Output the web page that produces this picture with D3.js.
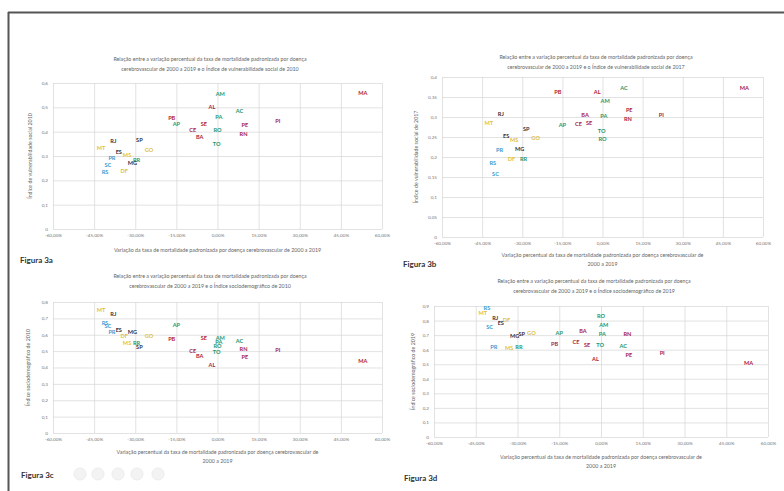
<!DOCTYPE html>
<html>
<head>
<meta charset="utf-8">
<script src="https://cdn.jsdelivr.net/npm/d3@7"></script>
<style>
  body { margin: 0; background: #fff; }
  svg text { font-family: Lato, "Open Sans", sans-serif; }
  .tick text { fill: #767676; }
  .grid line { stroke: #d6d6d6; stroke-width: 0.7; }
  .ttl { fill: #666; font-size: 5.3px; }
  .fig { fill: #333; font-size: 8px; font-weight: 700; }
  .lbl { font-size: 5.6px; font-weight: 700; }
</style>
</head>
<body>
<script>
// states, region and x values (shared by the 4 panels)
const states  = ["MA","PI","PE","RN","AC","AM","PA","RO","TO","AL","SE","BA","CE","AP","PB","GO","SP","RR","MG","MS","DF","ES","RJ","PR","SC","RS","MT"];
const regions = ["NE","NE","NE","NE","N","N","N","N","N","NE","NE","NE","NE","N","NE","CO","SE","N","SE","CO","CO","SE","SE","S","S","S","CO"];
const mortVar = [53,22,10,9.5,8,1,0.5,0,-0.3,-2,-5,-6.5,-9,-15,-16.7,-25,-28.5,-29.5,-31,-33,-34,-36,-38,-38.5,-40,-41,-42.5];

// y values per panel
const ivs2010 = [.559,.442,.426,.392,.484,.556,.46,.408,.351,.501,.433,.377,.408,.431,.456,.326,.367,.285,.271,.303,.237,.315,.36,.292,.262,.233,.333];
const ivs2017 = [.373,.304,.318,.296,.373,.34,.3025,.246,.265,.3625,.285,.304,.283,.279,.3625,.248,.271,.196,.221,.243,.194,.252,.308,.217,.158,.185,.285];
const ids2010 = [.44,.509,.464,.515,.562,.582,.556,.53,.492,.413,.582,.47,.499,.658,.572,.593,.525,.55,.617,.552,.592,.627,.725,.617,.652,.672,.749];
const ids2019 = [.505,.578,.562,.704,.624,.768,.704,.83,.635,.539,.631,.729,.652,.711,.638,.716,.706,.62,.695,.608,.803,.784,.814,.62,.757,.888,.849];

const xTicks = [-60,-45,-30,-15,0,15,30,45,60];
const yTicksA = [0,.1,.2,.3,.4,.5,.6];
const yTicksB = [0,.05,.1,.15,.2,.25,.3,.35,.4];
const yTicksC = [0,.1,.2,.3,.4,.5,.6,.7,.8];
const yTicksD = [0,.1,.2,.3,.4,.5,.6,.7,.8,.9];

const colors = {NE: "#a8203d", N: "#27966a", SE: "#35303a", S: "#3a9bd0", CO: "#e0c040"};

const titleA = "Relação entre a variação percentual da taxa de mortalidade padronizada por doença";

const svg = d3.select("body").append("svg")
    .attr("width", 784).attr("height", 491);

// frame
svg.append("line").attr("x1", 8).attr("x2", 784).attr("y1", 12.5).attr("y2", 12.5)
    .attr("stroke", "#555").attr("stroke-width", 2);
svg.append("line").attr("x1", 8.5).attr("x2", 8.5).attr("y1", 12).attr("y2", 491)
    .attr("stroke", "#555").attr("stroke-width", 2);

const fmtX = v => v.toFixed(2).replace(".", ",") + "%";
const fmtY = v => v === 0 ? "0" : String(+v.toFixed(2)).replace(".", ",");

const panels = [
  {x0: 53, x1: 382, y0: 229, y1: 83, ys: ivs2010, yt: yTicksA,
   title: [titleA, "cerebrovascular de 2000 a 2019 e o Índice de vulnerabilidade social de 2010"], ty: 61, tx: 210,
   xt: ["Variação da taxa de mortalidade padronizada por doença cerebrovascular de 2000 a 2019"], xty: 252,
   yl: "Índice de vulnerabilidade social 2010", ylx: 32, fig: "Figura 3a", fx: 20, fy: 263},
  {x0: 442, x1: 763, y0: 237, y1: 77, ys: ivs2017, yt: yTicksB,
   title: [titleA, "cerebrovascular de 2000 a 2019 e o Índice de vulnerabilidade social de 2017"], ty: 59, tx: 596,
   xt: ["Variação percentual da taxa de mortalidade padronizada por doença cerebrovascular de", "2000 a 2019"], xty: 257,
   yl: "Índice de vulnerabilidade social de 2017", ylx: 418, fig: "Figura 3b", fx: 403, fy: 267},
  {x0: 53, x1: 382, y0: 433, y1: 302, ys: ids2010, yt: yTicksC,
   title: [titleA, "cerebrovascular de 2000 a 2019 e o Índice sociodemográfico de 2010"], ty: 278, tx: 210,
   xt: ["Variação percentual da taxa de mortalidade padronizada por doença cerebrovascular de", "2000 a 2019"], xty: 454,
   yl: "Índice sociodemográfico de 2010", ylx: 30, fig: "Figura 3c", fx: 21, fy: 478},
  {x0: 434, x1: 768, y0: 437, y1: 306, ys: ids2019, yt: yTicksD,
   title: [titleA, "cerebrovascular de 2000 a 2019 e o Índice sociodemográfico de 2019"], ty: 283, tx: 594,
   xt: ["Variação percentual da taxa de mortalidade padronizada por doença cerebrovascular de", "2000 a 2019"], xty: 459,
   yl: "Índice sociodemográfico de 2019", ylx: 415, fig: "Figura 3d", fx: 404, fy: 481}
];

panels.forEach(p => {
  const x = d3.scaleLinear().domain([-60, 60]).range([p.x0, p.x1]);
  const y = d3.scaleLinear().domain([0, d3.max(p.yt)]).range([p.y0, p.y1]);
  const g = svg.append("g");

  // gridlines
  g.append("g").attr("class", "grid")
    .attr("transform", "translate(0," + p.y0 + ")")
    .call(d3.axisBottom(x).tickValues(xTicks).tickSize(-(p.y0 - p.y1)).tickFormat(fmtX).tickPadding(5))
    .call(a => a.select(".domain").remove())
    .call(a => a.selectAll("text").style("font-size", "4.6px"));
  g.append("g").attr("class", "grid")
    .attr("transform", "translate(" + p.x0 + ",0)")
    .call(d3.axisLeft(y).tickValues(p.yt).tickSize(-(p.x1 - p.x0)).tickFormat(fmtY).tickPadding(5))
    .call(a => a.select(".domain").remove())
    .call(a => a.selectAll("text").style("font-size", "4.6px"));

  // titles
  p.title.forEach((t, i) => g.append("text").attr("class", "ttl")
    .attr("x", p.tx).attr("y", p.ty + i * 9.5).attr("text-anchor", "middle").text(t));
  p.xt.forEach((t, i) => g.append("text").attr("class", "ttl")
    .attr("x", (p.x0 + p.x1) / 2).attr("y", p.xty + i * 8.5).attr("text-anchor", "middle").text(t));
  g.append("text").attr("class", "ttl")
    .attr("transform", "translate(" + p.ylx + "," + ((p.y0 + p.y1) / 2) + ") rotate(-90)")
    .attr("text-anchor", "middle").text(p.yl);

  // state labels
  g.selectAll(".lbl").data(states).enter().append("text")
    .attr("class", "lbl")
    .attr("x", (d, i) => x(mortVar[i]))
    .attr("y", (d, i) => y(p.ys[i]))
    .attr("dy", "0.35em")
    .attr("text-anchor", "middle")
    .attr("fill", (d, i) => colors[regions[i]])
    .text(d => d);

  svg.append("text").attr("class", "fig").attr("x", p.fx).attr("y", p.fy).text(p.fig);
});

// faint toolbar circles after "Figura 3c"
svg.selectAll(".dot").data([80, 98, 118, 137, 158]).enter().append("circle")
    .attr("cx", d => d).attr("cy", 474).attr("r", 6)
    .attr("fill", "#f3f3f3").attr("stroke", "#ececec");
</script>
</body>
</html>
